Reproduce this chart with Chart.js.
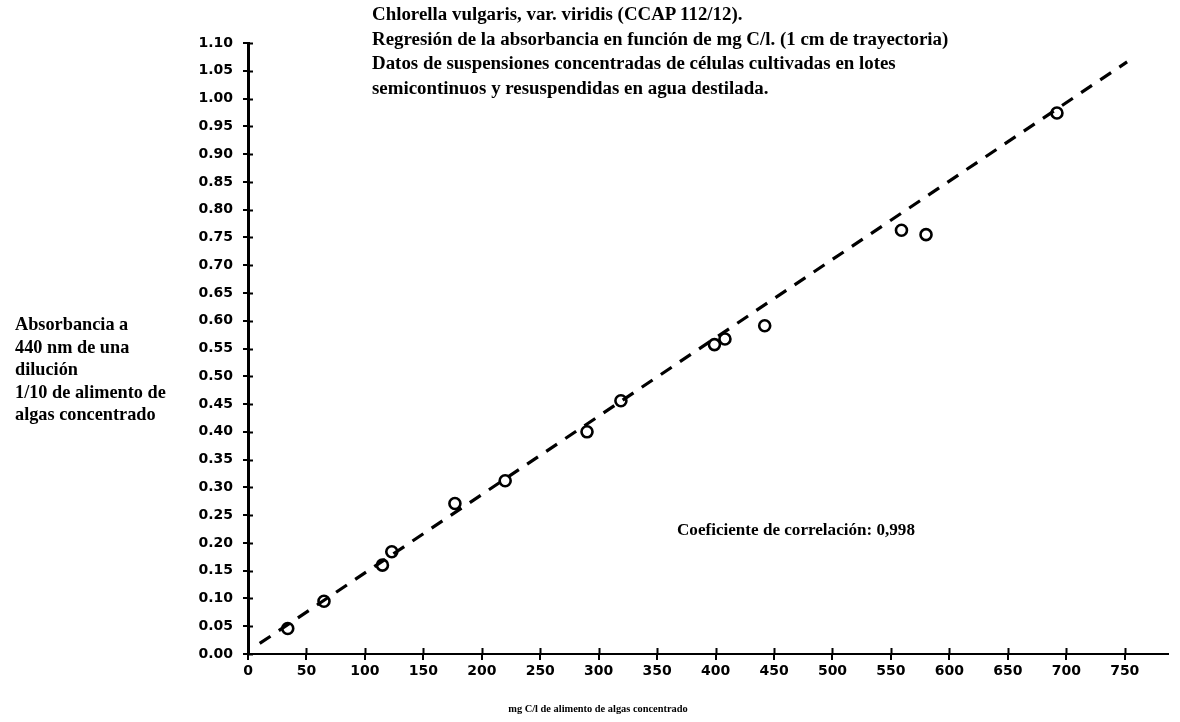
<!DOCTYPE html>
<html>
<head>
<meta charset="utf-8">
<script src="https://cdn.jsdelivr.net/npm/chart.js@4.4.1/dist/chart.umd.min.js"></script>
<style>
  html, body { margin: 0; padding: 0; background: #ffffff; }
  #wrap { position: relative; width: 1180px; height: 722px; overflow: hidden; }
  #c { position: absolute; left: 0; top: 0; }
  .txt { position: absolute; font-family: "Liberation Serif", "Times New Roman", serif; font-weight: bold; color: #000; white-space: pre; }
</style>
</head>
<body>
<div id="wrap">
  <canvas id="c" width="1180" height="722"></canvas>
</div>
<script>
// ---- data ----
const concMgCL = [34, 65, 115, 123, 177, 220, 290, 319, 399, 408, 442, 559, 580, 692];
const absorbance = [0.046, 0.095, 0.160, 0.184, 0.271, 0.312, 0.400, 0.456, 0.557, 0.567, 0.591, 0.763, 0.755, 0.974];
const regressionX = [10, 752];
const regressionY = [0.019, 1.066];
const xTickValues = [0, 50, 100, 150, 200, 250, 300, 350, 400, 450, 500, 550, 600, 650, 700, 750];
const yTickValues = [0, 0.05, 0.10, 0.15, 0.20, 0.25, 0.30, 0.35, 0.40, 0.45, 0.50, 0.55, 0.60, 0.65, 0.70, 0.75, 0.80, 0.85, 0.90, 0.95, 1.00, 1.05, 1.10];
const titleLines = [
  "Chlorella vulgaris, var. viridis (CCAP 112/12).",
  "Regresión de la absorbancia en función de mg C/l. (1 cm de trayectoria)",
  "Datos de suspensiones concentradas de células cultivadas en lotes",
  "semicontinuos y resuspendidas en agua destilada."
];
const yTitleLines = ["Absorbancia a", "440 nm de una", "dilución", "1/10 de alimento de", "algas concentrado"];
const xTitle = "mg C/l de alimento de algas concentrado";
const correlationText = "Coeficiente de correlación: 0,998";

// ---- text overlays ----
const wrap = document.getElementById('wrap');
function addText(str, left, top, size, lh, center) {
  const d = document.createElement('div');
  d.className = 'txt';
  d.textContent = str;
  d.style.top = top + 'px';
  d.style.fontSize = size + 'px';
  d.style.lineHeight = lh + 'px';
  if (center) {
    d.style.left = (left - 300) + 'px';
    d.style.width = '600px';
    d.style.textAlign = 'center';
  } else {
    d.style.left = left + 'px';
  }
  wrap.appendChild(d);
  return d;
}
addText(titleLines.join("\n"), 372, 2, 18.9, 24.5);
addText(yTitleLines.join("\n"), 15, 313, 18.3, 22.5);
addText(xTitle, 598, 701, 10.4, 16, true);
addText(correlationText, 677, 520, 17.1, 20);

// ---- points / line data built from arrays ----
const scatterData = concMgCL.map((x, i) => ({ x: x, y: absorbance[i] }));
const lineData = regressionX.map((x, i) => ({ x: x, y: regressionY[i] }));

const innerTicks = {
  id: 'innerTicks',
  afterDraw(chart) {
    const ctx = chart.ctx;
    const xs = chart.scales.x, ys = chart.scales.y;
    const area = chart.chartArea;
    ctx.save();
    ctx.strokeStyle = '#000';
    ctx.lineWidth = 2;
    ctx.beginPath();
    yTickValues.forEach(v => {
      const py = Math.round(ys.getPixelForValue(v)) + 0.5;
      ctx.moveTo(area.left, py);
      ctx.lineTo(area.left + 5, py);
    });
    xTickValues.forEach(v => {
      const px = Math.round(xs.getPixelForValue(v)) + 0.5;
      ctx.moveTo(px, area.bottom);
      ctx.lineTo(px, area.bottom - 6);
    });
    ctx.stroke();
    ctx.restore();
  }
};

new Chart(document.getElementById('c'), {
  type: 'scatter',
  data: {
    datasets: [
      {
        label: 'Datos',
        data: scatterData,
        showLine: false,
        pointStyle: 'circle',
        pointRadius: 5.5,
        pointHoverRadius: 5.5,
        pointBorderWidth: 2.6,
        pointBorderColor: '#000',
        pointBackgroundColor: 'rgba(255,255,255,0)'
      },
      {
        label: 'Regresión',
        data: lineData,
        showLine: true,
        borderColor: '#000',
        borderWidth: 3.2,
        borderDash: [13, 10],
        pointRadius: 0,
        fill: false
      }
    ]
  },
  options: {
    responsive: false,
    animation: false,
    devicePixelRatio: 1,
    layout: { padding: { left: 0, top: 43, right: 12, bottom: 0 } },
    plugins: {
      legend: { display: false },
      title: { display: false },
      tooltip: { enabled: false }
    },
    scales: {
      x: {
        type: 'linear',
        min: 0,
        max: 787,
        afterBuildTicks(scale) { scale.ticks = xTickValues.map(v => ({ value: v })); },
        afterFit(scale) { scale.height = 68; },
        border: { display: true, color: '#000', width: 2 },
        grid: { drawOnChartArea: false, drawTicks: true, tickLength: 6, color: '#000', lineWidth: 2 },
        ticks: {
          color: '#000',
          padding: 3,
          maxRotation: 0,
          autoSkip: false,
          font: { family: 'DejaVu Sans', weight: 'bold', size: 14 },
          callback: (v) => String(v)
        }
      },
      y: {
        type: 'linear',
        min: 0,
        max: 1.10,
        afterBuildTicks(scale) { scale.ticks = yTickValues.map(v => ({ value: v })); },
        afterFit(scale) { scale.width = 248; },
        border: { display: true, color: '#000', width: 3 },
        grid: { drawOnChartArea: false, drawTicks: true, tickLength: 5, color: '#000', lineWidth: 2 },
        ticks: {
          color: '#000',
          padding: 10,
          autoSkip: false,
          font: { family: 'DejaVu Sans', weight: 'bold', size: 14 },
          callback: (v) => Number(v).toFixed(2)
        }
      }
    }
  },
  plugins: [innerTicks]
});
</script>
</body>
</html>
